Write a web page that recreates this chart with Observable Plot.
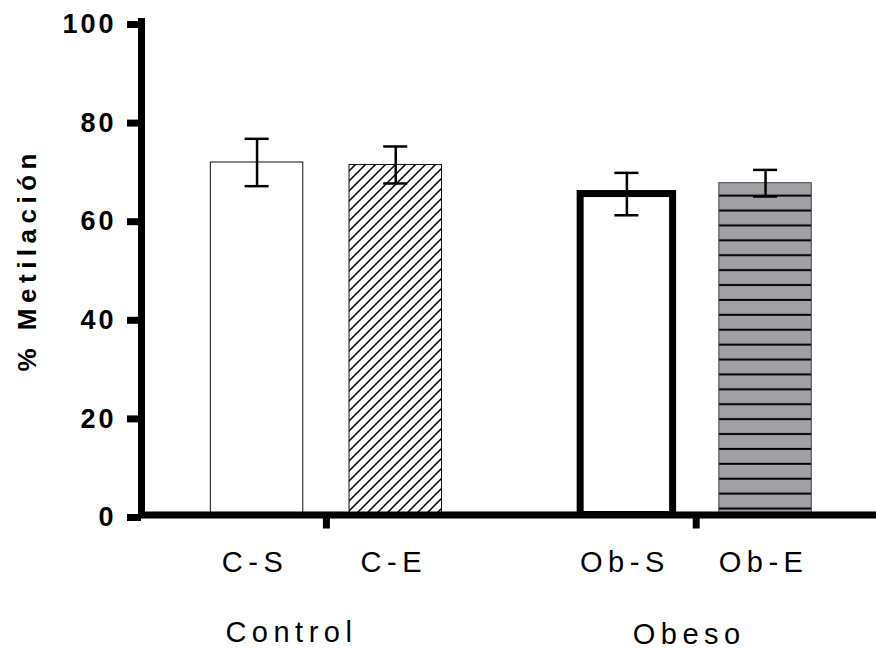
<!DOCTYPE html>
<html>
<head>
<meta charset="utf-8">
<script src="https://cdn.jsdelivr.net/npm/d3@7"></script>
<script src="https://cdn.jsdelivr.net/npm/@observablehq/plot@0.6"></script>
<style>
  html, body { margin: 0; padding: 0; background: white; }
</style>
</head>
<body>
<div id="chart"></div>
<script>
// ---- data ----
const categories = ["C-S", "C-E", "Ob-S", "Ob-E"];
const groupOf = ["Control", "Control", "Obeso", "Obeso"];
const groupNames = ["Control", "Obeso"];
const means = [71.5, 71.0, 65.1, 67.3];
const sems = [4.8, 3.75, 4.3, 2.7];
const yTicks = [0, 20, 40, 60, 80, 100];
const yTitle = "% Metilación";

// ---- layout (computed) ----
const groupCenter = g => 2 + 4 * groupNames.indexOf(g);
const data = categories.map((c, i) => {
  const w = groupOf.slice(0, i).filter(g => g === groupOf[i]).length;
  const pos = groupCenter(groupOf[i]) + (w - 0.5) * 1.5;
  return {cat: c, group: groupOf[i], pos, mean: means[i], lo: means[i] - sems[i], hi: means[i] + sems[i]};
});
const groupData = groupNames.map(g => ({group: g, pos: groupCenter(g)}));

const barStyles = {
  "C-S": {fill: "white", stroke: "#111", strokeWidth: 1},
  "C-E": {fill: "url(#hatch)", stroke: "#111", strokeWidth: 1},
  "Ob-S": {fill: "white", stroke: "black", strokeWidth: 7},
  "Ob-E": {fill: "url(#hlines)", stroke: "#444", strokeWidth: 1}
};
const halfBar = 0.5;
const capHalf = 0.13;

const barMarks = categories.map(c =>
  Plot.rect(data.filter(d => d.cat === c), {
    x1: d => d.pos - halfBar, x2: d => d.pos + halfBar, y1: 0, y2: "mean",
    ...barStyles[c]
  })
);

const chart = Plot.plot({
  width: 876,
  height: 650,
  marginLeft: 141,
  marginRight: 0,
  marginTop: 21.5,
  marginBottom: 135.5,
  x: {domain: [0, 7.95]},
  y: {domain: [0, 100]},
  style: {fontFamily: "'Liberation Sans', Arial, sans-serif", background: "white", color: "black"},
  marks: [
    ...barMarks,
    Plot.ruleX(data, {x: "pos", y1: "lo", y2: "hi", strokeWidth: 2.5}),
    Plot.ruleY(data, {y: "lo", x1: d => d.pos - capHalf, x2: d => d.pos + capHalf, strokeWidth: 2.5}),
    Plot.ruleY(data, {y: "hi", x1: d => d.pos - capHalf, x2: d => d.pos + capHalf, strokeWidth: 2.5}),
    Plot.ruleX([0], {strokeWidth: 7, strokeLinecap: "square"}),
    Plot.ruleY([0], {strokeWidth: 7}),
    Plot.axisY({ticks: yTicks, tickSize: 14, tickPadding: 11, strokeWidth: 7, fontSize: 27, fontWeight: "bold", label: null, dy: 2.5}),
    Plot.axisX({ticks: groupData.map(d => d.pos), tickSize: 14, strokeWidth: 7, tickFormat: () => "", label: null}),
    Plot.text(data, {x: "pos", y: 0, text: "cat", fontSize: 29, dy: 48, dx: -2, lineAnchor: "middle"}),
    Plot.text(groupData.filter(d => d.group === "Control"), {x: "pos", y: 0, text: "group", fontSize: 29, dy: 118, dx: -35, lineAnchor: "middle"}),
    Plot.text(groupData.filter(d => d.group === "Obeso"), {x: "pos", y: 0, text: "group", fontSize: 29, dy: 120, dx: -7, lineAnchor: "middle"}),
    Plot.text([yTitle], {text: d => d, frameAnchor: "left", textAnchor: "middle", rotate: -90, dx: -114, dy: -8.75, fontSize: 26, fontWeight: "bold", lineAnchor: "middle"})
  ]
});

// pattern definitions
const ns = "http://www.w3.org/2000/svg";
const svg = chart.tagName.toLowerCase() === "svg" ? chart : chart.querySelector("svg");
const defs = document.createElementNS(ns, "defs");
defs.innerHTML = `
  <pattern id="hatch" patternUnits="userSpaceOnUse" width="10" height="10">
    <rect width="10" height="10" fill="white"/>
    <path d="M-2.5,2.5 L2.5,-2.5 M0,10 L10,0 M7.5,12.5 L12.5,7.5" stroke="black" stroke-width="1.5"/>
  </pattern>
  <pattern id="hlines" patternUnits="userSpaceOnUse" width="10" height="14.9">
    <rect width="10" height="14.9" fill="#a1a0a5"/>
    <line x1="0" x2="10" y1="1.9" y2="1.9" stroke="black" stroke-width="2"/>
  </pattern>`;
svg.insertBefore(defs, svg.firstChild);

// letter spacing
svg.querySelectorAll('g[aria-label="text"]').forEach(g => g.style.letterSpacing = "5.5px");
svg.querySelectorAll('g[aria-label="y-axis tick label"]').forEach(g => g.style.letterSpacing = "3px");

document.getElementById("chart").appendChild(chart);
</script>
</body>
</html>
